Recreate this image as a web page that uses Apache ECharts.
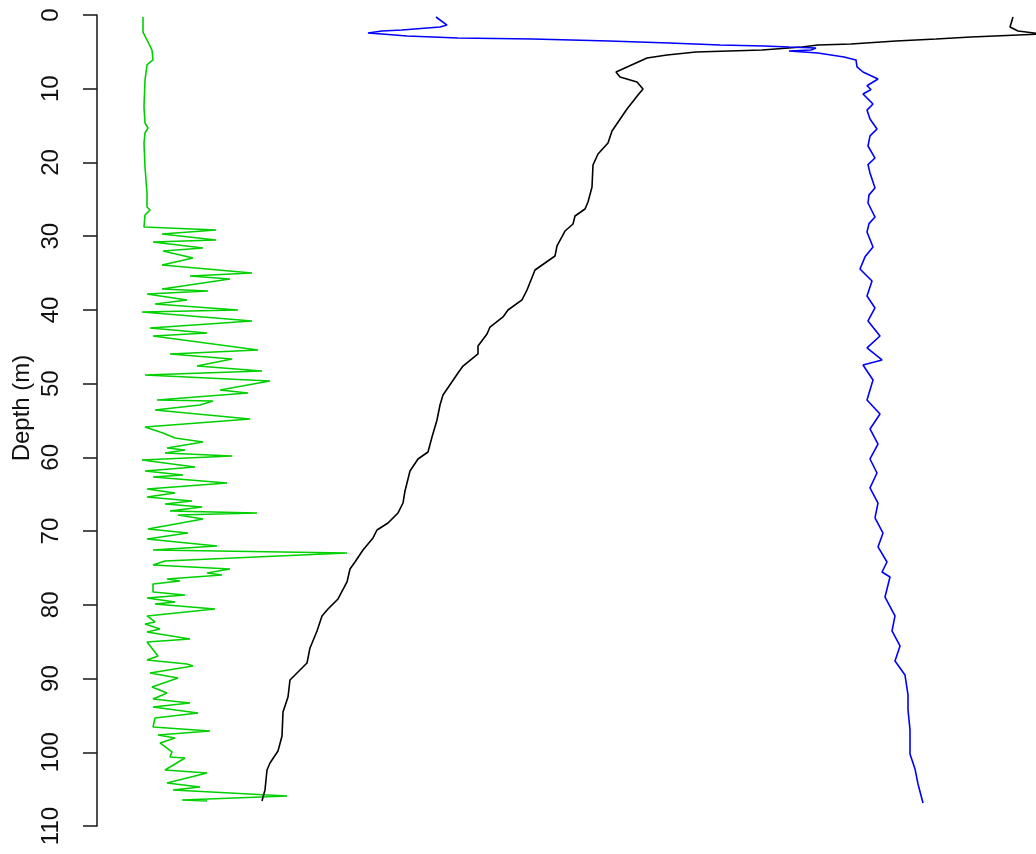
<!DOCTYPE html>
<html>
<head>
<meta charset="utf-8">
<script src="https://cdn.jsdelivr.net/npm/echarts@6/dist/echarts.min.js"></script>
<style>
  html, body { margin: 0; padding: 0; background: #fff; }
  #chart { width: 1036px; height: 854px; }
</style>
</head>
<body>
<div id="chart"></div>
<script>
// Profile values as [reading, depth in m]; readings share one hidden horizontal scale.
const depthTicks = [0, 10, 20, 30, 40, 50, 60, 70, 80, 90, 100, 110];

const blackProfile = [
  [916, 0.27], [913, 1.63], [921, 2.17], [945, 2.58], [874, 2.98], [839, 3.26],
  [799, 3.53], [754, 3.93], [721, 4.07], [705, 4.34], [665, 4.75], [599, 5.02],
  [570, 5.43], [550, 5.83], [519, 7.73], [523, 8.41], [540, 9.09], [546, 10.04],
  [541, 10.85], [530, 12.75], [515, 15.73], [511, 17.36], [501, 18.85], [496, 20.34],
  [495, 23.33], [491, 25.36], [488, 26.31], [478, 27.26], [476, 28.35], [468, 29.30],
  [460, 31.33], [458, 32.69], [438, 34.59], [430, 37.30], [425, 38.65], [411, 40.01],
  [406, 40.96], [393, 42.32], [390, 43.27], [381, 44.89], [381, 45.98], [366, 47.61],
  [361, 48.56], [346, 51.54], [343, 52.90], [340, 54.93], [335, 57.24], [331, 59.27],
  [321, 60.22], [313, 61.85], [308, 64.56], [306, 66.19], [301, 67.54], [291, 68.90],
  [280, 69.85], [276, 70.93], [266, 72.56], [258, 74.19], [253, 75.14], [250, 76.90],
  [241, 79.21], [231, 80.56], [225, 81.51], [220, 83.55], [213, 85.85], [210, 87.89],
  [193, 90.19], [191, 92.50], [186, 94.53], [185, 97.79], [181, 99.82], [173, 101.45],
  [170, 102.40], [168, 105.11], [166, 106.06], [165, 106.61]
];

const blueProfile = [
  [339, 0.27], [350, 1.36], [343, 1.63], [330, 1.76], [305, 2.03], [285, 2.17],
  [271, 2.44], [285, 2.58], [310, 2.85], [361, 3.12], [436, 3.26], [512, 3.53],
  [572, 3.80], [623, 4.07], [667, 4.20], [692, 4.34], [719, 4.48], [714, 4.75],
  [692, 4.88], [721, 5.15], [747, 5.70], [759, 6.10], [760, 7.05], [766, 7.73],
  [781, 8.68], [770, 9.60], [774, 10.10], [766, 10.71], [776, 12.07], [770, 12.90],
  [773, 14.11], [780, 15.46], [773, 16.40], [771, 17.77], [778, 19.40], [771, 20.30],
  [773, 21.43], [778, 23.46], [772, 24.40], [771, 25.50], [778, 27.40], [772, 28.30],
  [770, 29.43], [776, 31.47], [768, 32.80], [763, 34.45], [775, 36.08], [770, 38.11],
  [778, 39.74], [771, 41.50], [783, 43.54], [770, 45.16], [785, 46.79], [766, 47.47],
  [776, 49.50], [770, 52.22], [783, 54.12], [773, 56.15], [781, 58.19], [773, 60.22],
  [780, 62.12], [773, 64.15], [781, 66.19], [778, 68.22], [786, 70.26], [781, 72.15],
  [790, 74.19], [785, 75.55], [793, 76.22], [788, 78.94], [798, 81.51], [795, 83.55],
  [803, 85.58], [798, 87.62], [808, 89.52], [811, 92.23], [811, 94.26], [813, 96.97],
  [813, 100.23], [818, 102.26], [821, 104.30], [826, 106.87]
];

const greenProfile = [
  [46, 0.27], [46, 2.31], [50, 3.39], [55, 4.75], [56, 6.10], [50, 6.78],
  [48, 8.82], [47, 12.48], [48, 14.65], [51, 15.33], [48, 16.00], [47, 17.36],
  [48, 20.62], [50, 24.14], [50, 26.04], [53, 26.45], [48, 27.13], [47, 28.75],
  [48, 28.89], [119, 29.16], [65, 29.70], [119, 30.52], [56, 30.79], [106, 31.60],
  [66, 32.01], [96, 32.96], [65, 33.91], [155, 34.99], [93, 35.40], [133, 35.81],
  [65, 37.16], [111, 37.43], [50, 37.84], [90, 38.65], [58, 39.20], [141, 40.01],
  [45, 40.28], [155, 41.50], [53, 42.45], [110, 43.13], [56, 43.54], [161, 45.44],
  [73, 45.98], [135, 46.66], [100, 47.61], [165, 48.28], [48, 48.83], [173, 49.64],
  [123, 50.86], [151, 51.27], [60, 52.22], [116, 52.35], [103, 52.90], [58, 53.57],
  [153, 54.80], [48, 55.88], [66, 56.69], [78, 57.37], [106, 57.91], [70, 58.73],
  [88, 59.00], [68, 59.41], [135, 59.81], [45, 60.36], [98, 61.30], [48, 61.85],
  [86, 62.39], [56, 62.66], [130, 63.47], [50, 64.29], [78, 64.83], [50, 65.37],
  [95, 65.92], [68, 66.32], [105, 66.73], [73, 67.27], [160, 67.54], [81, 67.82],
  [106, 68.36], [51, 69.71], [91, 70.26], [50, 71.07], [120, 72.02], [56, 72.56],
  [250, 72.97], [68, 74.05], [56, 74.60], [133, 75.14], [110, 75.68], [125, 75.95],
  [70, 76.49], [83, 76.77], [56, 77.17], [56, 78.26], [88, 78.67], [50, 79.07],
  [78, 79.62], [58, 79.89], [118, 80.56], [50, 81.51], [58, 82.32], [48, 82.59],
  [63, 83.27], [50, 83.69], [93, 84.63], [50, 85.04], [61, 86.94], [50, 87.48],
  [90, 88.02], [96, 88.29], [53, 89.24], [81, 89.92], [55, 91.14], [70, 91.96],
  [56, 92.77], [93, 93.31], [56, 93.86], [101, 94.67], [58, 95.35], [56, 96.57],
  [113, 97.11], [61, 97.65], [78, 98.06], [63, 98.74], [75, 99.96], [73, 100.64],
  [88, 100.77], [68, 102.40], [110, 102.81], [70, 104.16], [103, 104.71], [76, 105.11],
  [190, 105.93], [85, 106.47], [110, 106.61]
];

const chart = echarts.init(document.getElementById('chart'), null, { renderer: 'canvas' });

function profileSeries(name, data, color) {
  return {
    name: name,
    type: 'line',
    data: data,
    showSymbol: false,
    clip: true,
    lineStyle: { color: color, width: 1.6 },
    emphasis: { disabled: true }
  };
}

chart.setOption({
  animation: false,
  backgroundColor: '#ffffff',
  grid: { left: 97, right: 0, top: 15, bottom: 28, containLabel: false },
  xAxis: {
    type: 'value', min: 0, max: 939, show: false
  },
  yAxis: {
    type: 'value',
    inverse: true,
    min: 0,
    max: 110,
    interval: 10,
    splitLine: { show: false },
    axisLine: { show: true, lineStyle: { color: '#222', width: 1.6 } },
    axisTick: { show: true, length: 14, lineStyle: { color: '#222', width: 1.6 } },
    axisLabel: {
      rotate: 90,
      margin: 34,
      color: '#111',
      fontFamily: 'Liberation Sans, Arial, sans-serif',
      fontSize: 24,
      formatter: v => depthTicks.includes(v) ? String(v) : ''
    }
  },
  graphic: [{
    type: 'text',
    x: 22,
    y: 408,
    rotation: Math.PI / 2,
    style: {
      text: 'Depth (m)',
      fill: '#111',
      font: '24px "Liberation Sans", Arial, sans-serif',
      textAlign: 'center',
      textVerticalAlign: 'middle'
    }
  }],
  series: [
    profileSeries('green', greenProfile, '#00d000'),
    profileSeries('black', blackProfile, '#000000'),
    profileSeries('blue', blueProfile, '#0000ff')
  ]
});
</script>
</body>
</html>
